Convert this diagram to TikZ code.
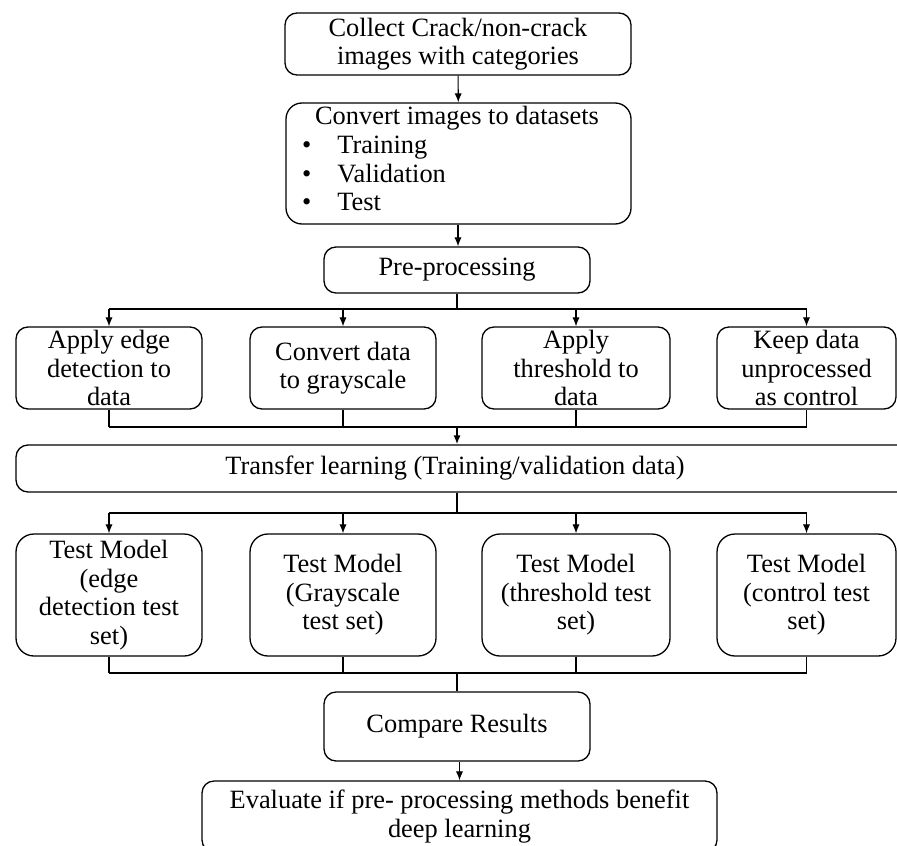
\documentclass[tikz,border=0pt]{standalone}
\usepackage{fontspec}
\setmainfont{Liberation Serif}
\usetikzlibrary{arrows.meta}
\begin{document}
\begin{tikzpicture}[x=0.5pt,y=-0.5pt,
  box/.style={draw, rounded corners=6pt, line width=0.65pt, align=center, inner sep=0pt, font=\fontsize{13.2}{14.3}\selectfont},
  tbox/.style={box, rounded corners=9pt, minimum height=61pt},
  rbox/.style={box, minimum height=41pt},
  txt/.style={inner sep=0pt, align=center, font=\fontsize{13.2}{14.3}\selectfont},
  arr/.style={-{Latex[length=4.5pt,width=3.6pt]}, line width=0.55pt},
  ln/.style={line width=0.55pt},
  trunk/.style={line width=1pt}]
\useasboundingbox (0,0) rectangle (897,845);
\clip (0,0) rectangle (897,845);
\fill[white] (0,0) rectangle (897,845);

% top boxes
\node[box, minimum width=173pt, minimum height=31pt] (collect) at (458,44) {Collect Crack/non-crack\\images with categories};
\node[box, minimum width=172.5pt, minimum height=60.5pt, rounded corners=8pt] (convert) at (458.5,163.5) {};
\node[txt] (convtext) at (457,162) {\begin{tabular}{@{}l@{}}\multicolumn{1}{@{}c@{}}{Convert images to datasets}\\
\hspace*{-6.5pt}\textbullet\hspace{13pt}Training\\
\hspace*{-6.5pt}\textbullet\hspace{13pt}Validation\\
\hspace*{-6.5pt}\textbullet\hspace{13pt}Test\end{tabular}};
\node[box, minimum width=133pt, minimum height=23pt] (pre) at (457,270) {Pre-processing};

% row 1
\node[rbox, minimum width=93pt] (A) at (109,368) {Apply edge\\detection to\\data};
\node[rbox, minimum width=93pt] (B) at (343,368) {Convert data\\to grayscale};
\node[rbox, minimum width=94pt] (C) at (576,368) {Apply\\threshold to\\data};
\node[rbox, minimum width=89.5pt] (D) at (806.5,368) {Keep data\\unprocessed\\as control};

% transfer
\node[box, minimum width=460pt, minimum height=23.5pt] (tl) at (476,468.5) {};
\node[txt] (tltext) at (455,468.5) {Transfer learning (Training/validation data)};

% row 2
\node[tbox, minimum width=93pt] (TA) at (109,595) {Test Model\\(edge\\detection test\\set)};
\node[tbox, minimum width=93pt] (TB) at (343,595) {Test Model\\(Grayscale\\test set)};
\node[tbox, minimum width=94pt] (TC) at (576,595) {Test Model\\(threshold test\\set)};
\node[tbox, minimum width=89.5pt] (TD) at (806.5,595) {Test Model\\(control test\\set)};

% bottom
\node[box, minimum width=133pt, minimum height=34.5pt] (cmp) at (457,726.5) {Compare Results};
\node[box, minimum width=257.5pt, minimum height=35.5pt] (eval) at (459.5,816.5) {Evaluate if pre- processing methods benefit\\deep learning};

% connectors
\draw[arr] (collect) -- (convert);
\draw[arr] (convert.south -| collect) -- (pre.north -| collect);

\coordinate (j1) at (457,309);
\coordinate (j2) at (457,427);
\coordinate (j3) at (457,513);
\coordinate (j4) at (457,673);

\draw[trunk] (pre.south) -- (j1);
\draw[ln] (A.north |- j1) -- (D.north |- j1);
\foreach \n in {A,B,C,D} \draw[arr] (\n.north |- j1) -- (\n.north);
\foreach \n in {A,B,C,D} \draw[ln] (\n.south) -- (\n.south |- j2);
\draw[ln] (A.south |- j2) -- (D.south |- j2);
\draw[arr, trunk] (j2) -- (j2 |- tl.north);

\draw[trunk] (j3 |- tl.south) -- (j3);
\draw[ln] (TA.north |- j3) -- (TD.north |- j3);
\foreach \n in {TA,TB,TC,TD} \draw[arr] (\n.north |- j3) -- (\n.north);
\foreach \n in {TA,TB,TC,TD} \draw[ln] (\n.south) -- (\n.south |- j4);
\draw[ln] (TA.south |- j4) -- (TD.south |- j4);
\draw[trunk] (j4) -- (cmp.north);
\draw[arr] (cmp.south -| eval) -- (eval.north);
\end{tikzpicture}
\end{document}
